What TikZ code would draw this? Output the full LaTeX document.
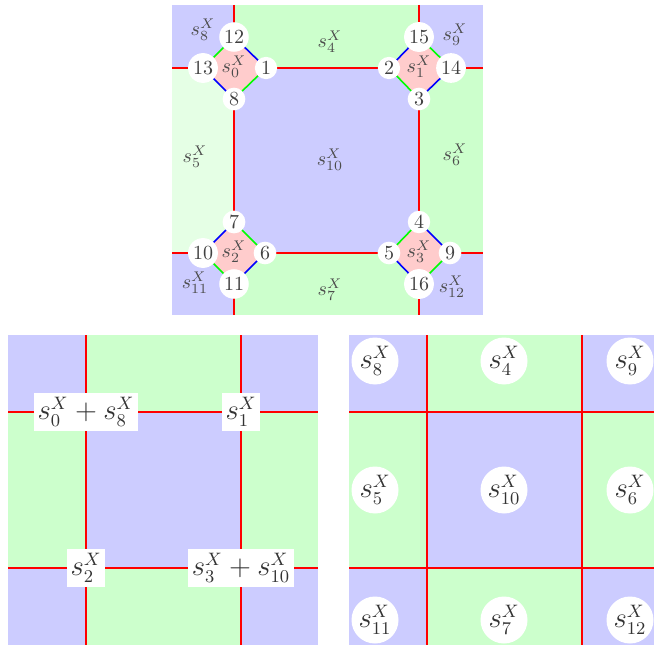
\documentclass[tikz,border=0pt]{standalone}
\tikzset{
  vnum/.style={circle, fill=white, inner sep=1pt, minimum size=19pt*0.5, text=black!75, font=\normalsize},
  slab/.style={text=black!70, font=\normalsize},
  redline/.style={red, line width=0.8pt},
  bigred/.style={red, line width=1.3pt},
  gedge/.style={green, line width=0.8pt},
  bedge/.style={blue, line width=0.8pt},
  boxlab/.style={fill=white, inner sep=1.8pt, text=black!80, font=\fontsize{13.5}{16}\selectfont},
  circlab/.style={circle, fill=white, inner sep=0pt, minimum size=23.5pt, text=black!80, font=\fontsize{13.5}{16}\selectfont},
}
\colorlet{cblue}{blue!20}
\colorlet{cgreen}{green!20}
\colorlet{clgreen}{green!10}
\colorlet{cpink}{red!20}
\begin{document}
\begin{tikzpicture}[x=0.5pt,y=-0.5pt]
\useasboundingbox (0,0) rectangle (654,647);
% ---------------- top diagram ----------------
\fill[cblue] (172,5) rectangle (483,315);
\fill[cgreen] (234,5) rectangle (419,68);
\fill[cgreen] (419,68) rectangle (483,253);
\fill[cgreen] (234,253) rectangle (419,315);
\fill[clgreen] (172,68) rectangle (234,253);
\draw[redline] (234,5) -- (234,315);
\draw[redline] (419,5) -- (419,315);
\draw[redline] (172,68) -- (483,68);
\draw[redline] (172,253) -- (483,253);
% diamond vertices
\coordinate (c12) at (234,37);
\coordinate (c1)  at (266,68);
\coordinate (c8)  at (234,99);
\coordinate (c13) at (203,68);
\coordinate (c15) at (419,37);
\coordinate (c14) at (451,68);
\coordinate (c3)  at (419,99);
\coordinate (c2)  at (389,68);
\coordinate (c7)  at (234,222);
\coordinate (c6)  at (265,253);
\coordinate (c11) at (234,284);
\coordinate (c10) at (203,253);
\coordinate (c4)  at (419,222);
\coordinate (c9)  at (450,253);
\coordinate (c16) at (419,284);
\coordinate (c5)  at (389,253);
\fill[cpink] (c12) -- (c1) -- (c8) -- (c13) -- cycle;
\fill[cpink] (c15) -- (c14) -- (c3) -- (c2) -- cycle;
\fill[cpink] (c7) -- (c6) -- (c11) -- (c10) -- cycle;
\fill[cpink] (c4) -- (c9) -- (c16) -- (c5) -- cycle;
\draw[gedge] (c13) -- (c12); \draw[bedge] (c12) -- (c1);
\draw[gedge] (c1) -- (c8);   \draw[bedge] (c8) -- (c13);
\draw[bedge] (c2) -- (c15);  \draw[gedge] (c15) -- (c14);
\draw[bedge] (c14) -- (c3);  \draw[gedge] (c3) -- (c2);
\draw[bedge] (c10) -- (c7);  \draw[gedge] (c7) -- (c6);
\draw[bedge] (c6) -- (c11);  \draw[gedge] (c11) -- (c10);
\draw[gedge] (c5) -- (c4);   \draw[bedge] (c4) -- (c9);
\draw[gedge] (c9) -- (c16);  \draw[bedge] (c16) -- (c5);
\foreach \n in {1,...,16} { \node[vnum] (n\n) at (c\n) {\n}; }
% region labels
\node[slab] (t0)  at (234,67)  {$s_0^X$};
\node[slab] (t1)  at (419,67)  {$s_1^X$};
\node[slab] (t2)  at (234,252) {$s_2^X$};
\node[slab] (t3)  at (419,252) {$s_3^X$};
\node[slab] (t4)  at (330,42)  {$s_4^X$};
\node[slab] (t5)  at (195,157) {$s_5^X$};
\node[slab] (t6)  at (455,155) {$s_6^X$};
\node[slab] (t7)  at (330,290) {$s_7^X$};
\node[slab] (t8)  at (203,30)  {$s_8^X$};
\node[slab] (t9)  at (455,35)  {$s_9^X$};
\node[slab] (t10) at (330,160) {$s_{10}^X$};
\node[slab] (t11) at (195,283) {$s_{11}^X$};
\node[slab] (t12) at (452,287) {$s_{12}^X$};
% ---------------- bottom-left diagram ----------------
\fill[cblue] (8,335) rectangle (318,645);
\fill[cgreen] (86,335) rectangle (241,412);
\fill[cgreen] (8,412) rectangle (86,568);
\fill[cgreen] (241,412) rectangle (318,568);
\fill[cgreen] (86,568) rectangle (241,645);
\draw[bigred] (86,335) -- (86,645);
\draw[bigred] (241,335) -- (241,645);
\draw[bigred] (8,412) -- (318,412);
\draw[bigred] (8,568) -- (318,568);
\node[boxlab] (b0) at (86,412)  {$s_0^X + s_8^X$};
\node[boxlab] (b1) at (241,412) {$s_1^X$};
\node[boxlab] (b2) at (86,568)  {$s_2^X$};
\node[boxlab] (b3) at (241,568) {$s_3^X + s_{10}^X$};
% ---------------- bottom-right diagram ----------------
\fill[cblue] (349,335) rectangle (660,645);
\fill[cgreen] (427,335) rectangle (582,412);
\fill[cgreen] (349,412) rectangle (427,568);
\fill[cgreen] (582,412) rectangle (660,568);
\fill[cgreen] (427,568) rectangle (582,645);
\draw[bigred] (427,335) -- (427,645);
\draw[bigred] (582,335) -- (582,645);
\draw[bigred] (349,412) -- (660,412);
\draw[bigred] (349,568) -- (660,568);
\node[circlab] (r8)  at (375,361) {$s_8^X$};
\node[circlab] (r4)  at (504,361) {$s_4^X$};
\node[circlab] (r9)  at (630,361) {$s_9^X$};
\node[circlab] (r5)  at (375,490) {$s_5^X$};
\node[circlab] (r10) at (504,490) {$s_{10}^X$};
\node[circlab] (r6)  at (630,490) {$s_6^X$};
\node[circlab] (r11) at (375,620) {$s_{11}^X$};
\node[circlab] (r7)  at (504,620) {$s_7^X$};
\node[circlab] (r12) at (630,620) {$s_{12}^X$};
\end{tikzpicture}
\end{document}
